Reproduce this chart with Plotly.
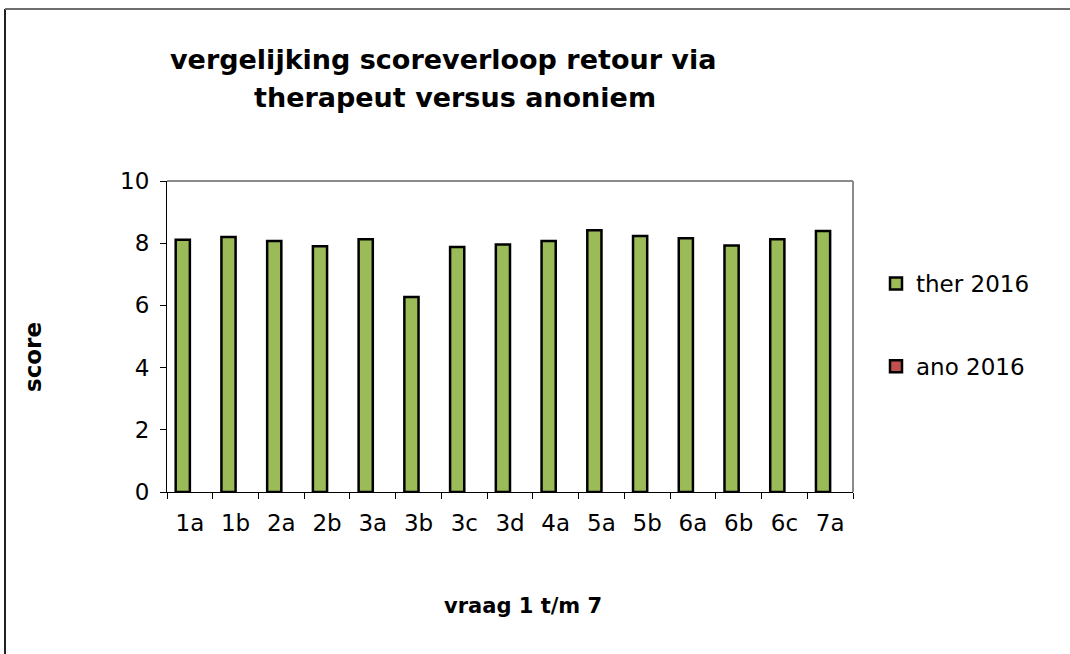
import plotly.graph_objects as go

categories = ["1a", "1b", "2a", "2b", "3a", "3b", "3c", "3d", "4a", "5a", "5b", "6a", "6b", "6c", "7a"]
ther_2016 = [8.11, 8.20, 8.07, 7.90, 8.13, 6.27, 7.88, 7.96, 8.07, 8.42, 8.23, 8.16, 7.93, 8.13, 8.39]
ano_2016 = [None] * len(categories)
y_ticks = [0, 2, 4, 6, 8, 10]

W, H = 1070, 654
L, R, T, B = 167, 853, 181, 492  # plot area in pixels


def px(xp):
    return (xp - L) / (R - L)


def py(yp):
    return (B - yp) / (B - T)


FONT = "DejaVu Sans"

fig = go.Figure()
fig.add_trace(go.Bar(
    x=categories, y=ther_2016, name="ther 2016", legendgroup="a",
    marker=dict(color="#9BBB59", line=dict(color="black", width=2.5)),
))
fig.add_trace(go.Bar(
    x=categories, y=ano_2016, name="ano 2016", legendgroup="b",
    marker=dict(color="#C0504D", line=dict(color="black", width=2.5)),
))

fig.update_layout(
    width=W, height=H,
    margin=dict(l=L, r=W - R, t=T, b=H - B, autoexpand=False),
    paper_bgcolor="white", plot_bgcolor="white",
    barmode="group", bargap=0.38, bargroupgap=0,
    font=dict(family=FONT, size=23, color="black"),
    showlegend=True,
    legend=dict(
        x=px(876), y=py(262), xanchor="left", yanchor="top",
        traceorder="grouped", tracegroupgap=50,
        font=dict(family=FONT, size=23, color="black"),
        bgcolor="rgba(0,0,0,0)",
    ),
    xaxis=dict(
        type="category", showgrid=False, zeroline=False,
        showline=True, linecolor="black", linewidth=1,
        ticks="outside", tickson="boundaries", ticklen=6, tickcolor="black",
        ticklabelstandoff=10,
        tickfont=dict(family=FONT, size=23, color="black"),
    ),
    yaxis=dict(
        range=[0, 10], tickvals=y_ticks, showgrid=False, zeroline=False,
        showline=True, linecolor="black", linewidth=1,
        ticks="outside", ticklen=6, tickcolor="black",
        ticklabelstandoff=6,
        tickfont=dict(family=FONT, size=23, color="black"),
    ),
    shapes=[
        # plot area top and right border
        dict(type="line", xref="paper", yref="paper", x0=0, x1=1, y0=1, y1=1,
             line=dict(color="#8a8a8a", width=2)),
        dict(type="line", xref="paper", yref="paper", x0=1, x1=1, y0=0, y1=1,
             line=dict(color="#8a8a8a", width=2)),
        # outer chart frame
        dict(type="line", xref="paper", yref="paper", x0=px(5), x1=px(5), y0=py(9), y1=py(700),
             line=dict(color="#222222", width=2)),
        dict(type="line", xref="paper", yref="paper", x0=px(5), x1=px(1100), y0=py(9), y1=py(9),
             line=dict(color="#6e6e6e", width=2)),
    ],
    annotations=[
        dict(text="<b>vergelijking scoreverloop retour via</b>", xref="paper", yref="paper",
             x=px(443), y=py(60), xanchor="center", yanchor="middle", showarrow=False,
             font=dict(family=FONT, size=27, color="black")),
        dict(text="<b>therapeut versus anoniem</b>", xref="paper", yref="paper",
             x=px(455), y=py(97), xanchor="center", yanchor="middle", showarrow=False,
             font=dict(family=FONT, size=27, color="black")),
        dict(text="<b>score</b>", xref="paper", yref="paper", textangle=-90,
             x=px(33), y=py(357), xanchor="center", yanchor="middle", showarrow=False,
             font=dict(family=FONT, size=23, color="black")),
        dict(text="<b>vraag 1 t/m 7</b>", xref="paper", yref="paper",
             x=px(523), y=py(606), xanchor="center", yanchor="middle", showarrow=False,
             font=dict(family=FONT, size=21, color="black")),
    ],
)

fig.write_html(
    "out.html",
    config={"displayModeBar": False},
    post_script="document.body.style.margin='0';document.body.style.overflow='hidden';",
)
